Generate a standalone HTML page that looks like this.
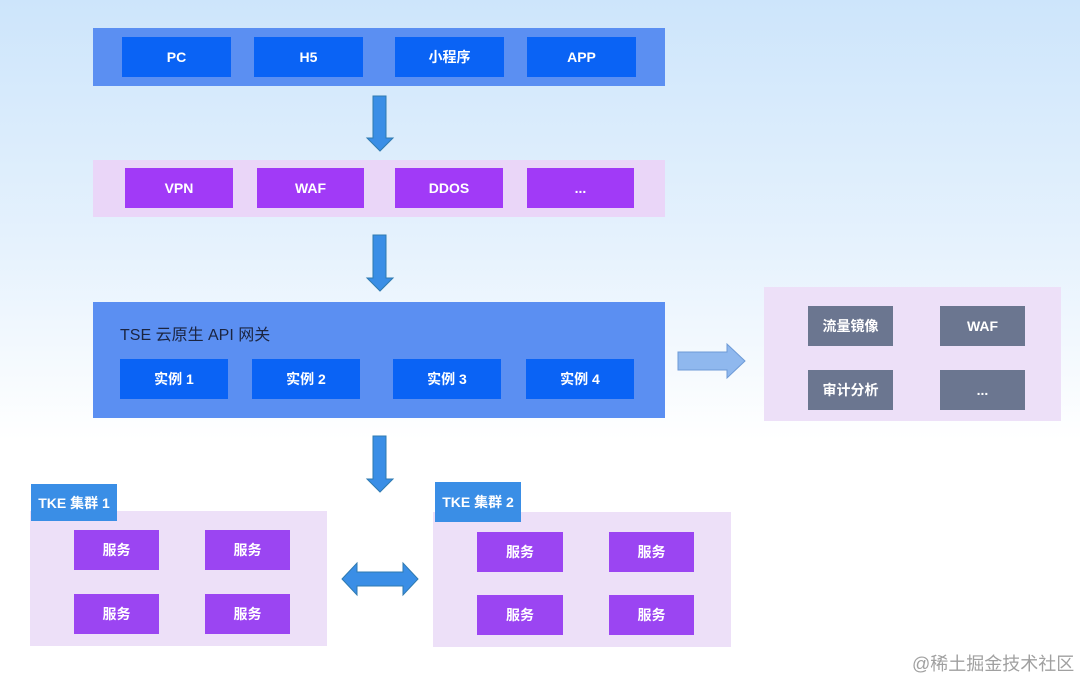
<!DOCTYPE html>
<html><head><meta charset="utf-8"><style>
body{margin:0;width:1080px;height:679px;position:relative;overflow:hidden;background:linear-gradient(180deg,#cde5fb 0px,#e6f2fd 250px,#ffffff 440px);font-family:"Liberation Sans","Noto Sans CJK SC",sans-serif}
.a{position:absolute}
.b{position:absolute;display:flex;align-items:center;justify-content:center;color:#fff;font-weight:bold;font-size:14px}
.blue{background:#0a63f5}.pur{background:#a13af7}.gray{background:#6b7690}.sv{background:#9b45f2}
</style></head><body>
<div class="a" style="left:93px;top:28px;width:572px;height:58px;background:#5b8ff2"></div>
<div class="b blue" style="left:122px;top:37px;width:109px;height:40px">PC</div>
<div class="b blue" style="left:254px;top:37px;width:109px;height:40px">H5</div>
<div class="b blue" style="left:395px;top:37px;width:109px;height:40px">小程序</div>
<div class="b blue" style="left:527px;top:37px;width:109px;height:40px">APP</div>

<div class="a" style="left:93px;top:160px;width:572px;height:57px;background:#ead6f8"></div>
<div class="b pur" style="left:125px;top:168px;width:108px;height:40px">VPN</div>
<div class="b pur" style="left:257px;top:168px;width:107px;height:40px">WAF</div>
<div class="b pur" style="left:395px;top:168px;width:108px;height:40px">DDOS</div>
<div class="b pur" style="left:527px;top:168px;width:107px;height:40px">...</div>

<div class="a" style="left:93px;top:302px;width:572px;height:116px;background:#5b8ff2"></div>
<div class="a" style="left:120px;top:321px;color:#1b2440;font-size:16px">TSE 云原生 API 网关</div>
<div class="b blue" style="left:120px;top:359px;width:108px;height:40px">实例 1</div>
<div class="b blue" style="left:252px;top:359px;width:108px;height:40px">实例 2</div>
<div class="b blue" style="left:393px;top:359px;width:108px;height:40px">实例 3</div>
<div class="b blue" style="left:526px;top:359px;width:108px;height:40px">实例 4</div>

<div class="a" style="left:764px;top:287px;width:297px;height:134px;background:#ede0f8"></div>
<div class="b gray" style="left:808px;top:306px;width:85px;height:40px">流量镜像</div>
<div class="b gray" style="left:940px;top:306px;width:85px;height:40px">WAF</div>
<div class="b gray" style="left:808px;top:370px;width:85px;height:40px">审计分析</div>
<div class="b gray" style="left:940px;top:370px;width:85px;height:40px">...</div>

<div class="a" style="left:30px;top:511px;width:297px;height:135px;background:#ede0f8"></div>
<div class="b" style="left:31px;top:484px;width:86px;height:37px;background:#3a8ee6">TKE 集群 1</div>
<div class="b sv" style="left:74px;top:530px;width:85px;height:40px">服务</div>
<div class="b sv" style="left:205px;top:530px;width:85px;height:40px">服务</div>
<div class="b sv" style="left:74px;top:594px;width:85px;height:40px">服务</div>
<div class="b sv" style="left:205px;top:594px;width:85px;height:40px">服务</div>

<div class="a" style="left:433px;top:512px;width:298px;height:135px;background:#ede0f8"></div>
<div class="b" style="left:435px;top:482px;width:86px;height:40px;background:#3a8ee6">TKE 集群 2</div>
<div class="b sv" style="left:477px;top:532px;width:86px;height:40px">服务</div>
<div class="b sv" style="left:609px;top:532px;width:85px;height:40px">服务</div>
<div class="b sv" style="left:477px;top:595px;width:86px;height:40px">服务</div>
<div class="b sv" style="left:609px;top:595px;width:85px;height:40px">服务</div>

<svg class="a" style="left:0;top:0" width="1080" height="679">
<g fill="#3a8ee6" stroke="#2f7ab0" stroke-width="1">
<polygon points="373,96 386,96 386,138 393,138 380,151 367,138 373,138"/>
<polygon points="373,235 386,235 386,278 393,278 380,291 367,278 373,278"/>
<polygon points="373,436 386,436 386,479 393,479 380,492 367,479 373,479"/>
<polygon points="342,579 357,563 357,572 403,572 403,563 418,579 403,595 403,586 357,586 357,595"/>
</g>
<polygon points="678,352 727,352 727,344 745,361 727,378 727,370 678,370" fill="#8fb8ee" stroke="#6d9ad6"/>
</svg>
<div class="a" style="left:912px;top:650px;color:#a0a0a0;font-size:18px">@稀土掘金技术社区</div>
</body></html>
